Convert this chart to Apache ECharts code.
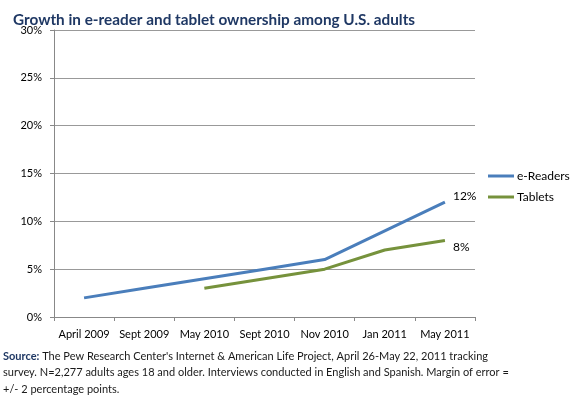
<!DOCTYPE html>
<html><head><meta charset="utf-8">
<script src="https://cdn.jsdelivr.net/npm/echarts@6/dist/echarts.min.js"></script>
<style>html,body{margin:0;padding:0;background:#fff}#c{width:586px;height:398px}</style>
</head><body><div id="c"></div>
<script>
var categories = ['April 2009','Sept 2009','May 2010','Sept 2010','Nov 2010','Jan 2011','May 2011'];
var eReaders = [2, 3, 4, 5, 6, 9, 12];
var tablets = [null, null, 3, 4, 5, 7, 8];
var yTicks = [0, 5, 10, 15, 20, 25, 30];
var titleText = 'Growth in e-reader and tablet ownership among U.S. adults';
var sourceLines = [
  "{b|Source:} The Pew Research Center's Internet & American Life Project, April 26-May 22, 2011 tracking",
  "survey. N=2,277 adults ages 18 and older. Interviews conducted in English and Spanish. Margin of error =",
  "+/- 2 percentage points."
];
var FONT = 'Lato';
var chart = echarts.init(document.getElementById('c'));
function endLbl(offsetY){
  return {show:true, distance:8, offset:[0,offsetY], color:'#000', fontFamily:FONT, fontSize:12,
    formatter:function(p){return p.value[1]!==undefined ? p.value[1]+'%' : p.value+'%';}};
}
chart.setOption({
  animation:false,
  title:{text:titleText, left:8, top:8, textStyle:{fontFamily:FONT, fontWeight:'bold', fontSize:15.3, color:'#1F3864'}},
  grid:{left:54, right:111, top:30, bottom:81},
  legend:{orient:'vertical', left:483, top:165, itemWidth:26, itemHeight:14, itemGap:9,
    icon:'path://M0,6L26,6L26,9L0,9Z',
    textStyle:{fontFamily:FONT, fontSize:12, color:'#000', padding:[0,0,0,-2]},
    data:['e-Readers','Tablets']},
  xAxis:{type:'category', data:categories, boundaryGap:true,
    axisLine:{lineStyle:{color:'#888', width:1}},
    axisTick:{show:true, length:4, lineStyle:{color:'#888'}},
    axisLabel:{fontFamily:FONT, fontSize:11, color:'#000', margin:12, interval:0}},
  yAxis:{type:'value', min:0, max:30, interval:5,
    axisLine:{show:true, lineStyle:{color:'#888'}},
    axisTick:{show:true, length:4, lineStyle:{color:'#888'}},
    splitLine:{lineStyle:{color:'#999', width:1}},
    axisLabel:{fontFamily:FONT, fontSize:11, color:'#000', margin:12, formatter:'{value}%'}},
  series:[
    {name:'e-Readers', type:'line', data:eReaders, symbol:'none', color:'#4A7EBB',
      lineStyle:{width:3, color:'#4A7EBB'}, endLabel:endLbl(-6)},
    {name:'Tablets', type:'line', data:tablets, symbol:'none', color:'#76923C',
      lineStyle:{width:3, color:'#76923C'}, endLabel:endLbl(7)}
  ],
  graphic:[{type:'text', left:3, top:348, style:{
    text:sourceLines.join('\n'), fontFamily:FONT, fontSize:11, lineHeight:16.5, fill:'#1A1A1A',
    rich:{b:{fontFamily:FONT, fontSize:11, fontWeight:'bold', fill:'#1F3864', lineHeight:16.5}}}}]
});
</script></body></html>
